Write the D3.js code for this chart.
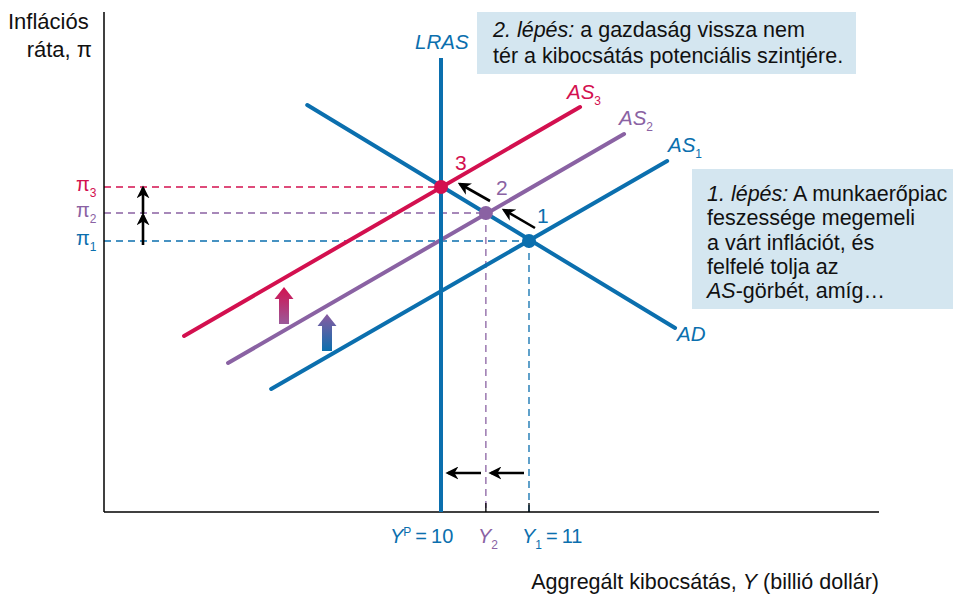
<!DOCTYPE html>
<html>
<head>
<meta charset="utf-8">
<script src="https://cdn.jsdelivr.net/npm/d3@7"></script>
<style>
  body { margin: 0; background: #fff; }
  svg text { font-family: "Liberation Sans", Arial, sans-serif; }
</style>
</head>
<body>
<div id="chart"></div>
<script>
// Output (billion dollars) and inflation (arbitrary units)
var yPotential = 10;
var outputLevels = [11, 10.51, 10];      // Y1, Y2, YP at points 1, 2, 3
var inflationLevels = [27.1, 29.9, 32.5]; // pi1, pi2, pi3
var pointLabels = ["1", "2", "3"];

// curve endpoints [x0, x1], [y0, y1]
var curveNames = ["AD", "AS1", "AS2", "AS3"];
var curveX = [[8.48, 12.66], [8.07, 12.57], [7.58, 12.08], [7.08, 11.58]];
var curveY = [[40.7, 18.4], [12.3, 35.1], [14.9, 37.8], [17.6, 40.5]];
var lrasTop = 45.4;

var blue = "#0b6fae", purple = "#8a62a3", red = "#d3104f", boxFill = "#d4e6f0";
var levelColors = [blue, purple, red];
var curveColors = [blue, blue, purple, red];

var width = 953, height = 594;
var svg = d3.select("#chart").append("svg")
    .attr("width", width)
    .attr("height", height);

var x = d3.scaleLinear().domain([10, 11]).range([441, 529]);
var y = d3.scaleLinear().domain([0, 50]).range([512, 12]);
var xMin = x.invert(104), xMax = x.invert(879);

var defs = svg.append("defs");
function grad(id, top, bottom) {
    var g = defs.append("linearGradient").attr("id", id)
        .attr("x1", 0).attr("y1", 0).attr("x2", 0).attr("y2", 1);
    g.append("stop").attr("offset", "0%").attr("stop-color", top);
    g.append("stop").attr("offset", "100%").attr("stop-color", bottom);
}
grad("gRed", red, "#9a5a9a");
grad("gBlue", "#8a5aa0", blue);
defs.append("marker").attr("id", "arr")
    .attr("viewBox", "0 0 10 10").attr("refX", 8).attr("refY", 5)
    .attr("markerWidth", 5).attr("markerHeight", 5).attr("orient", "auto")
    .append("path").attr("d", "M0,0 L10,5 L0,10 L3,5 Z").attr("fill", "#000");

// text boxes
svg.append("rect").attr("x", 477).attr("y", 12).attr("width", 379).attr("height", 62).attr("fill", boxFill);
svg.append("rect").attr("x", 692).attr("y", 169).attr("width", 261).attr("height", 140).attr("fill", boxFill);

var boxFont = 21.5;
var box2 = svg.append("text").attr("font-size", boxFont).attr("fill", "#111");
var l1 = box2.append("tspan").attr("x", 493).attr("y", 37);
l1.append("tspan").attr("font-style", "italic").text("2. lépés:");
l1.append("tspan").text(" a gazdaság vissza nem");
box2.append("tspan").attr("x", 493).attr("y", 63).text("tér a kibocsátás potenciális szintjére.");

var box1 = svg.append("text").attr("font-size", boxFont).attr("fill", "#111");
var b1 = box1.append("tspan").attr("x", 707).attr("y", 201);
b1.append("tspan").attr("font-style", "italic").text("1. lépés:");
b1.append("tspan").text(" A munkaerőpiac");
box1.append("tspan").attr("x", 707).attr("y", 225).text("feszessége megemeli");
box1.append("tspan").attr("x", 707).attr("y", 250).text("a várt inflációt, és");
box1.append("tspan").attr("x", 707).attr("y", 274).text("felfelé tolja az");
var b5 = box1.append("tspan").attr("x", 707).attr("y", 298);
b5.append("tspan").attr("font-style", "italic").text("AS");
b5.append("tspan").text("-görbét, amíg…");

// dashed guide lines
inflationLevels.forEach(function (p, i) {
    svg.append("line")
        .attr("x1", x(xMin)).attr("x2", x(outputLevels[i]))
        .attr("y1", y(p)).attr("y2", y(p))
        .attr("stroke", levelColors[i]).attr("stroke-width", 1.3)
        .attr("stroke-dasharray", "7,5");
    if (i < 2) {
        svg.append("line")
            .attr("x1", x(outputLevels[i])).attr("x2", x(outputLevels[i]))
            .attr("y1", y(p)).attr("y2", y(0))
            .attr("stroke", levelColors[i]).attr("stroke-width", 1.3)
            .attr("stroke-dasharray", "7,5");
    }
});

// axes
var xAxis = d3.axisBottom(x).tickValues([]).tickSizeOuter(0);
svg.append("g").attr("transform", "translate(0," + y(0) + ")").call(xAxis)
    .select(".domain").attr("d", "M" + x(xMin) + ",0H" + x(xMax))
    .attr("stroke", "#000").attr("stroke-width", 1.5);
var yAxis = d3.axisLeft(y).tickValues([]).tickSizeOuter(0);
svg.append("g").attr("transform", "translate(" + x(xMin) + ",0)").call(yAxis)
    .select(".domain").attr("d", "M0," + y(50) + "V" + y(0))
    .attr("stroke", "#000").attr("stroke-width", 1.5);

// small ticks at Y2, Y1
outputLevels.slice(0, 2).forEach(function (v) {
    svg.append("line").attr("x1", x(v)).attr("x2", x(v))
        .attr("y1", y(0) - 9).attr("y2", y(0)).attr("stroke", "#000").attr("stroke-width", 1.3);
});

// curves
var line = d3.line().x(function (d) { return x(d[0]); }).y(function (d) { return y(d[1]); });
curveNames.forEach(function (n, i) {
    svg.append("path")
        .datum([[curveX[i][0], curveY[i][0]], [curveX[i][1], curveY[i][1]]])
        .attr("d", line)
        .attr("fill", "none").attr("stroke", curveColors[i])
        .attr("stroke-width", 4).attr("stroke-linecap", "round");
});
svg.append("path").datum([[yPotential, 0], [yPotential, lrasTop]]).attr("d", line)
    .attr("fill", "none").attr("stroke", blue).attr("stroke-width", 4);

// equilibrium points
outputLevels.forEach(function (v, i) {
    svg.append("circle").attr("cx", x(v)).attr("cy", y(inflationLevels[i]))
        .attr("r", 7).attr("fill", levelColors[i]);
});
var plOff = [[8, -18], [10, -18], [14, -17]];
pointLabels.forEach(function (t, i) {
    svg.append("text").attr("x", x(outputLevels[i]) + plOff[i][0])
        .attr("y", y(inflationLevels[i]) + plOff[i][1])
        .attr("font-size", 21).attr("fill", levelColors[i]).text(t);
});

// black arrows
function arrow(x1, y1, x2, y2) {
    svg.append("line").attr("x1", x1).attr("y1", y1).attr("x2", x2).attr("y2", y2)
        .attr("stroke", "#000").attr("stroke-width", 2.6).attr("marker-end", "url(#arr)");
}
arrow(535, 228, 504, 210);
arrow(490, 201, 460, 184);
arrow(143, y(inflationLevels[0]) + 4, 143, y(inflationLevels[1]) + 2);
arrow(143, y(inflationLevels[1]) + 1, 143, y(inflationLevels[2]) + 1);
arrow(524, 473, 491, 473);
arrow(481, 473, 448, 473);

// fat shift arrows
function fatArrow(cx, top, bottom, fill) {
    svg.append("path")
        .attr("d", "M" + cx + "," + top + " L" + (cx + 9.5) + "," + (top + 12) + " L" + (cx + 5) + "," + (top + 12) +
            " L" + (cx + 5) + "," + bottom + " L" + (cx - 5) + "," + bottom + " L" + (cx - 5) + "," + (top + 12) +
            " L" + (cx - 9.5) + "," + (top + 12) + " Z")
        .attr("fill", fill);
}
fatArrow(284, 287, 324, "url(#gRed)");
fatArrow(327, 314, 351, "url(#gBlue)");

// curve labels
function subLabel(tx, ty, main, sub, color) {
    var t = svg.append("text").attr("x", tx).attr("y", ty).attr("fill", color)
        .attr("font-size", 20.5).attr("font-style", "italic");
    t.append("tspan").text(main);
    if (sub) t.append("tspan").attr("dy", 6).attr("font-size", 12).attr("font-style", "normal").text(sub);
    return t;
}
subLabel(415, 49, "LRAS", null, blue);
subLabel(567, 99, "AS", "3", red);
subLabel(619, 125, "AS", "2", purple);
subLabel(668, 152, "AS", "1", blue);
subLabel(677, 341, "AD", null, blue);

// y labels
var piSubs = ["1", "2", "3"];
inflationLevels.forEach(function (p, i) {
    var t = svg.append("text").attr("x", 76).attr("y", y(p) + 4).attr("fill", levelColors[i]).attr("font-size", 20);
    t.append("tspan").text("π");
    t.append("tspan").attr("dy", 6).attr("font-size", 12).text(piSubs[i]);
});

// x tick labels
var xl = svg.append("text").attr("x", 390).attr("y", 543).attr("fill", blue).attr("font-size", 20);
xl.append("tspan").attr("font-style", "italic").text("Y");
xl.append("tspan").attr("dy", -7).attr("font-size", 12).text("P");
xl.append("tspan").attr("dy", 7).text("\u2009=\u2009" + yPotential);
var x2 = svg.append("text").attr("x", 478).attr("y", 543).attr("fill", purple).attr("font-size", 20);
x2.append("tspan").attr("font-style", "italic").text("Y");
x2.append("tspan").attr("dy", 6).attr("font-size", 12).text("2");
var x1 = svg.append("text").attr("x", 522).attr("y", 543).attr("fill", blue).attr("font-size", 20);
x1.append("tspan").attr("font-style", "italic").text("Y");
x1.append("tspan").attr("dy", 6).attr("font-size", 12).text("1");
x1.append("tspan").attr("dy", -6).text("\u2009=\u2009" + outputLevels[0]);

// axis titles
svg.append("text").attr("x", 8).attr("y", 29).attr("font-size", 22).attr("fill", "#111").text("Inflációs");
svg.append("text").attr("x", 92).attr("y", 57).attr("font-size", 22).attr("fill", "#111")
    .attr("text-anchor", "end").text("ráta, π");
var xt = svg.append("text").attr("x", 879).attr("y", 589).attr("font-size", 21.5).attr("fill", "#111")
    .attr("text-anchor", "end");
xt.append("tspan").text("Aggregált kibocsátás, ");
xt.append("tspan").attr("font-style", "italic").text("Y");
xt.append("tspan").text(" (billió dollár)");
</script>
</body>
</html>
